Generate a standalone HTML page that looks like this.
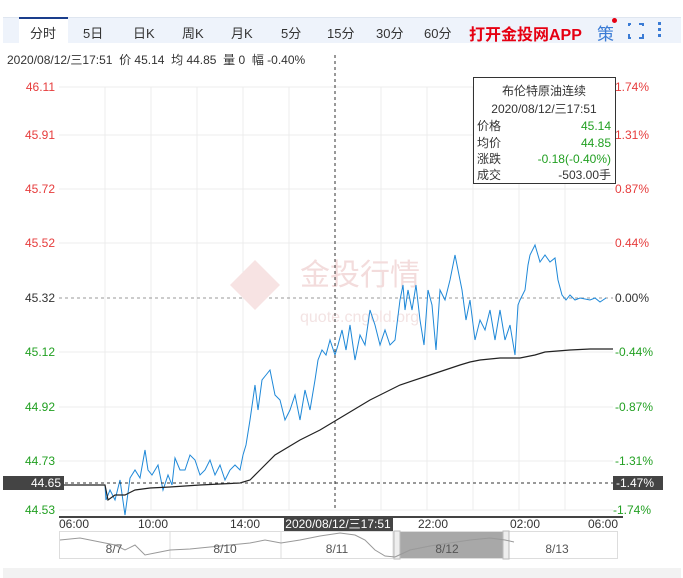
<!DOCTYPE html>
<html><head><meta charset="utf-8"><style>
body{margin:0;width:683px;height:578px;background:#fff;font-family:"Liberation Sans","Noto Sans CJK SC",sans-serif;overflow:hidden;position:relative}
.bar{position:absolute;left:3px;top:17px;width:678px;height:25px;background:#eef3fb;border-top:1px solid #dfe6f0}
.tab{position:absolute;top:5px;font-size:13px;color:#333}
.act{position:absolute;left:16px;top:-1px;width:49px;height:28px;background:#fff;border-top:2px solid #1a3e8c}
.info{position:absolute;left:7px;top:51px;font-size:12px;color:#333}
</style></head><body>
<div class="bar">
<div class="act"></div>
<span class="tab" style="left:27px">分时</span>
<span class="tab" style="left:80px">5日</span>
<span class="tab" style="left:130px">日K</span>
<span class="tab" style="left:179px">周K</span>
<span class="tab" style="left:228px">月K</span>
<span class="tab" style="left:278px">5分</span>
<span class="tab" style="left:324px">15分</span>
<span class="tab" style="left:373px">30分</span>
<span class="tab" style="left:421px">60分</span>
<span class="tab" style="left:466px;top:3px;color:#e60012;font-size:16px;font-weight:bold">打开金投网APP</span>
<span class="tab" style="left:594px;top:2px;color:#3a7bd5;font-size:17px">策</span>
<span style="position:absolute;left:609px;top:0px;width:5px;height:5px;border-radius:50%;background:#e60012"></span>
<span style="position:absolute;left:625px;top:5px;width:12px;height:12px;border:2px solid #3a7bd5"></span>
<span style="position:absolute;left:628px;top:3px;width:8px;height:18px;background:#eef3fb"></span>
<span style="position:absolute;left:623px;top:8px;width:18px;height:8px;background:#eef3fb"></span>
<span style="position:absolute;left:655px;top:4px;width:3px;height:3px;background:#3a7bd5;box-shadow:0 6px #3a7bd5,0 12px #3a7bd5"></span>
</div>
<div class="info">2020/08/12/三17:51&nbsp; 价 45.14&nbsp; 均 44.85&nbsp; 量 0&nbsp; 幅 -0.40%</div>
<svg width="683" height="578" style="position:absolute;left:0;top:0" font-family="Liberation Sans, Noto Sans CJK SC, sans-serif">
<g stroke="#ececec" stroke-width="1">
<line x1="59" y1="87" x2="613" y2="87"/><line x1="59" y1="135" x2="613" y2="135"/><line x1="59" y1="189" x2="613" y2="189"/><line x1="59" y1="243" x2="613" y2="243"/><line x1="59" y1="352" x2="613" y2="352"/><line x1="59" y1="407" x2="613" y2="407"/><line x1="59" y1="461" x2="613" y2="461"/><line x1="59" y1="510" x2="613" y2="510"/>
<line x1="105" y1="87" x2="105" y2="510"/><line x1="151" y1="87" x2="151" y2="510"/><line x1="197" y1="87" x2="197" y2="510"/><line x1="243" y1="87" x2="243" y2="510"/><line x1="289" y1="87" x2="289" y2="510"/><line x1="381" y1="87" x2="381" y2="510"/><line x1="427" y1="87" x2="427" y2="510"/><line x1="473" y1="87" x2="473" y2="510"/><line x1="519" y1="87" x2="519" y2="510"/><line x1="565" y1="87" x2="565" y2="510"/>
</g>
<line x1="59" y1="298" x2="613" y2="298" stroke="#999" stroke-dasharray="3,3"/>
<text x="300" y="285" font-size="30" fill="#f3dcdc">金投行情</text>
<text x="300" y="322" font-size="16" fill="#f3e3e3">quote.cngold.org</text>
<polygon points="230,285 255,260 280,285 255,310" fill="#f7e3e3"/>
<g font-size="12" text-anchor="end">
<text x="55" y="91" fill="#e63c3c">46.11</text><text x="55" y="139" fill="#e63c3c">45.91</text><text x="55" y="193" fill="#e63c3c">45.72</text><text x="55" y="247" fill="#e63c3c">45.52</text><text x="55" y="302" fill="#333">45.32</text><text x="55" y="356" fill="#22a022">45.12</text><text x="55" y="411" fill="#22a022">44.92</text><text x="55" y="465" fill="#22a022">44.73</text><text x="55" y="514" fill="#22a022">44.53</text>
</g>
<g font-size="12">
<text x="615" y="91" fill="#e63c3c">1.74%</text><text x="615" y="139" fill="#e63c3c">1.31%</text><text x="615" y="193" fill="#e63c3c">0.87%</text><text x="615" y="247" fill="#e63c3c">0.44%</text><text x="615" y="302" fill="#333">0.00%</text><text x="615" y="356" fill="#22a022">-0.44%</text><text x="615" y="411" fill="#22a022">-0.87%</text><text x="615" y="465" fill="#22a022">-1.31%</text><text x="613" y="514" fill="#22a022">-1.74%</text>
</g>
<polyline fill="none" stroke="#1e88d8" stroke-width="1" points="59,485 105,485 106,500 110,490 115,500 120,480 125,515 130,478 135,470 140,478 145,450 148,470 152,475 158,465 163,490 168,475 172,485 175,458 180,470 185,470 190,455 195,460 200,475 205,470 210,460 215,475 220,465 225,480 230,470 235,465 240,470 243,455 246,445 250,420 255,385 258,410 262,380 266,375 270,370 275,395 280,400 285,420 290,410 295,395 300,420 305,390 310,410 315,380 318,360 322,350 326,355 330,340 335,355 338,345 342,330 346,350 350,325 355,360 360,335 365,345 370,310 375,325 380,345 385,330 390,345 395,340 400,300 403,285 405,310 408,290 412,310 416,285 420,320 424,345 428,290 432,305 436,350 440,290 445,300 450,280 455,255 458,270 462,290 466,320 470,300 475,340 480,320 485,330 490,310 495,340 500,310 505,340 510,325 515,355 518,305 520,300 525,290 528,265 530,255 535,245 540,262 545,255 550,262 555,258 558,280 562,295 566,300 570,295 575,300 580,298 590,300 595,298 600,302 606,298"/>
<polyline fill="none" stroke="#222" stroke-width="1.2" points="59,485 105,485 108,500 115,495 125,495 135,490 150,488 170,487 200,485 240,483 250,480 260,470 275,455 300,440 320,430 340,418 370,400 400,385 430,375 460,365 470,362 480,360 500,358 520,358 535,355 545,352 570,350 590,349 613,349"/>
<line x1="335" y1="55" x2="335" y2="510" stroke="#333" stroke-dasharray="3,3"/>
<line x1="59" y1="483" x2="613" y2="483" stroke="#333" stroke-dasharray="3,3"/>
<rect x="3" y="476" width="61" height="14" fill="#444"/><text x="61" y="487" font-size="12" fill="#fff" text-anchor="end">44.65</text>
<rect x="613" y="476" width="50" height="14" fill="#444"/><text x="616" y="487" font-size="12" fill="#fff">-1.47%</text>
<rect x="473.5" y="77.5" width="142" height="106" fill="#fff" stroke="#333"/>
<text x="544" y="95" font-size="12" fill="#333" text-anchor="middle">布伦特原油连续</text>
<text x="544" y="113" font-size="12" fill="#333" text-anchor="middle">2020/08/12/三17:51</text>
<g font-size="12"><text x="477" y="130" fill="#333">价格</text><text x="477" y="147" fill="#333">均价</text><text x="477" y="163" fill="#333">涨跌</text><text x="477" y="179" fill="#333">成交</text></g>
<g font-size="12" text-anchor="end"><text x="611" y="130" fill="#22a022">45.14</text><text x="611" y="147" fill="#22a022">44.85</text><text x="611" y="163" fill="#22a022">-0.18(-0.40%)</text><text x="611" y="179" fill="#333">-503.00手</text></g>
<line x1="59" y1="517" x2="623" y2="517" stroke="#444" stroke-width="2"/>
<g font-size="12" fill="#333" text-anchor="middle"><text x="74" y="528">06:00</text><text x="153" y="528">10:00</text><text x="245" y="528">14:00</text><text x="433" y="528">22:00</text><text x="525" y="528">02:00</text><text x="603" y="528">06:00</text></g>
<rect x="284" y="516" width="109" height="15" fill="#444"/><text x="338" y="528" font-size="12" fill="#fff" text-anchor="middle">2020/08/12/三17:51</text>
<rect x="59.5" y="531.5" width="558" height="27" fill="#fff" stroke="#ddd"/>
<g stroke="#ddd"><line x1="170" y1="532" x2="170" y2="558"/><line x1="281" y1="532" x2="281" y2="558"/><line x1="393" y1="532" x2="393" y2="558"/></g>
<rect x="397" y="532" width="108" height="26" fill="#a8a8a8"/>
<rect x="394" y="531" width="6" height="28" fill="#eee" stroke="#bbb"/><rect x="503" y="531" width="6" height="28" fill="#eee" stroke="#bbb"/>
<polyline fill="none" stroke="#999" points="60,540 80,538 100,542 115,545 125,550 135,545 145,555 160,552 170,550 190,549 220,546 250,543 265,540 281,543 300,540 320,536 340,533 355,535 365,540 375,550 385,556 395,557 410,550 430,546 450,543 470,540 490,538 505,540 514,542"/>
<g font-size="12" fill="#555" text-anchor="middle"><text x="114" y="553">8/7</text><text x="225" y="553">8/10</text><text x="337" y="553">8/11</text><text x="447" y="553">8/12</text><text x="557" y="553">8/13</text></g>
<rect x="3" y="568" width="678" height="10" fill="#f2f2f2"/>
</svg>
</body></html>
